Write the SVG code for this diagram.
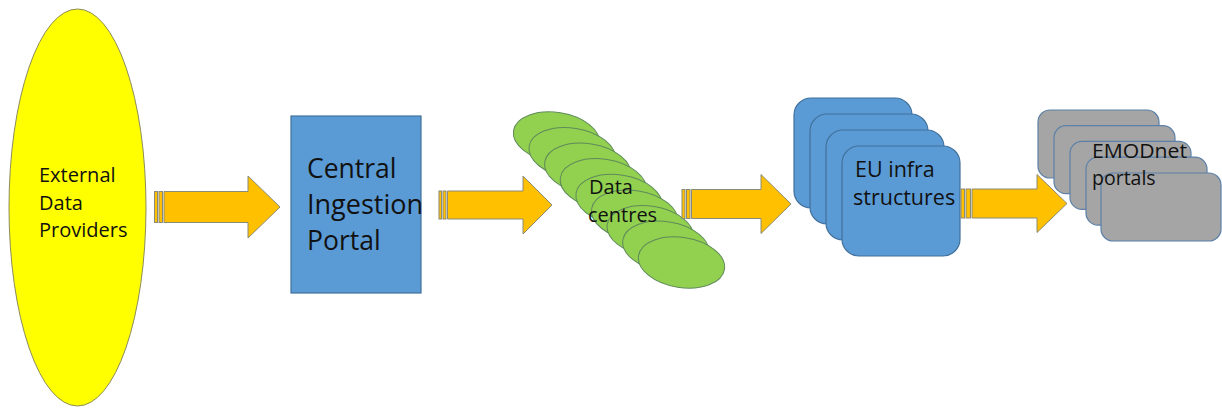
<svg xmlns="http://www.w3.org/2000/svg" width="1222" height="408" viewBox="0 0 1222 408">
<style>
.txt{font-family:"Open Sans","Liberation Sans",sans-serif;fill:#111;}
.arrow{fill:#FFC000;stroke:#8a8a78;stroke-width:1;}
.blue{fill:#5B9BD5;stroke:#41719C;stroke-width:1.2;}
.green{fill:#92D050;stroke:#5f8a5a;stroke-width:1;}
.gray{fill:#A5A5A5;stroke:#5C80A8;stroke-width:1.2;}
</style>
<rect width="1222" height="408" fill="#ffffff"/>
<g id="external">
<ellipse cx="77.5" cy="207.5" rx="68.5" ry="198.5" fill="#FFFF00" stroke="#8c8c5a" stroke-width="1"/>
<text class="txt" font-size="20"><tspan x="39" y="182">External</tspan><tspan x="39" y="209.5">Data</tspan><tspan x="39" y="237">Providers</tspan></text>
</g>
<g id="central">
<rect class="blue" x="291" y="116" width="130" height="177"/>
<text class="txt" font-size="26.5"><tspan x="307" y="178">Central</tspan><tspan x="307" y="214" textLength="116" lengthAdjust="spacingAndGlyphs">Ingestion</tspan><tspan x="307" y="250">Portal</tspan></text>
</g>
<g id="datacentres">
<g class="green">
<ellipse cx="556.5" cy="137.5" rx="43.5" ry="25" transform="rotate(9 556.5 137.5)"/>
<ellipse cx="572.1" cy="153.1" rx="43.5" ry="25" transform="rotate(9 572.1 153.1)"/>
<ellipse cx="587.7" cy="168.7" rx="43.5" ry="25" transform="rotate(9 587.7 168.7)"/>
<ellipse cx="603.3" cy="184.3" rx="43.5" ry="25" transform="rotate(9 603.3 184.3)"/>
<ellipse cx="619" cy="200" rx="43.5" ry="25" transform="rotate(9 619 200)"/>
<ellipse cx="634.6" cy="215.6" rx="43.5" ry="25" transform="rotate(9 634.6 215.6)"/>
<ellipse cx="650.2" cy="231.2" rx="43.5" ry="25" transform="rotate(9 650.2 231.2)"/>
<ellipse cx="665.8" cy="246.8" rx="43.5" ry="25" transform="rotate(9 665.8 246.8)"/>
<ellipse cx="681.5" cy="262.5" rx="43.5" ry="25" transform="rotate(9 681.5 262.5)"/>
</g>
<text class="txt" font-size="20"><tspan x="589" y="194">Data</tspan><tspan x="588" y="222">centres</tspan></text>
</g>
<g id="euinfra">
<rect class="blue" x="794" y="98" width="118" height="110" rx="17"/>
<rect class="blue" x="810" y="114" width="118" height="110" rx="17"/>
<rect class="blue" x="826" y="130" width="118" height="110" rx="17"/>
<rect class="blue" x="842" y="146" width="118" height="110" rx="17"/>
<text class="txt" font-size="21.5"><tspan x="855" y="177">EU infra</tspan><tspan x="853" y="205">structures</tspan></text>
</g>
<g id="emodnet">
<rect class="gray" x="1038" y="110" width="121" height="68" rx="12"/>
<rect class="gray" x="1054" y="125.7" width="121" height="68" rx="12"/>
<rect class="gray" x="1070" y="141.4" width="121" height="68" rx="12"/>
<rect class="gray" x="1086" y="157.1" width="121" height="68" rx="12"/>
<rect class="gray" x="1101" y="173" width="120" height="68" rx="12"/>
<text class="txt" font-size="19.5"><tspan x="1092" y="158" textLength="95" lengthAdjust="spacingAndGlyphs">EMODnet</tspan><tspan x="1092" y="185">portals</tspan></text>
</g>
<g id="connectors">
<g class="arrow">
<rect x="154.5" y="191.5" width="3" height="31"/>
<rect x="159" y="191.5" width="3.5" height="31"/>
<path d="M164 191.5 H248 V176 L280 207 L248 238 V222.5 H164 Z"/>
</g>
<g class="arrow">
<rect x="439" y="191" width="2.5" height="28"/>
<rect x="443" y="191" width="3" height="28"/>
<path d="M447.5 191 H523 V176 L552 205 L523 234 V219 H447.5 Z"/>
</g>
<g class="arrow">
<rect x="682" y="189.5" width="3" height="29"/>
<rect x="686.5" y="189.5" width="3.5" height="29"/>
<path d="M691.5 189.5 H761 V174.5 L791 204 L761 233.5 V218.5 H691.5 Z"/>
</g>
<g class="arrow">
<rect x="961" y="189" width="3.5" height="29"/>
<rect x="966" y="189" width="4.5" height="29"/>
<path d="M972 189 H1037 V174.5 L1067 203.5 L1037 232.5 V218 H972 Z"/>
</g>
</g>
</svg>
